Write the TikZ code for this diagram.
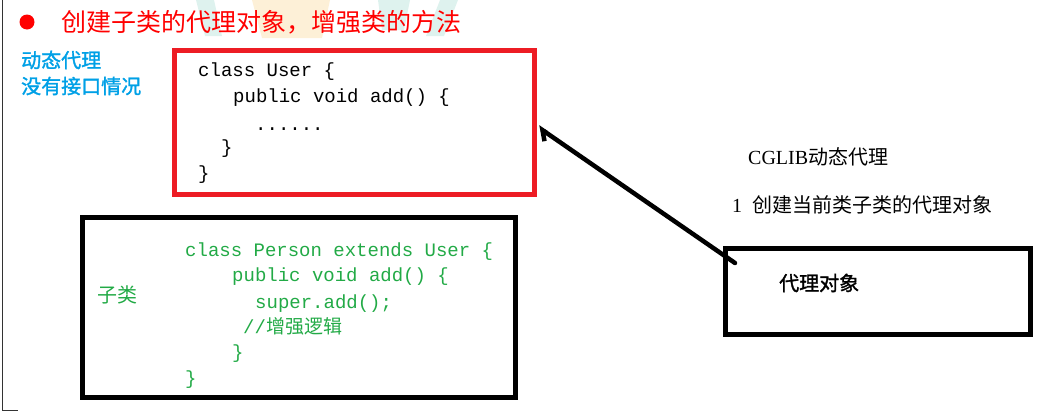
\documentclass[tikz,border=0pt]{standalone}
\usepackage{fontspec}
\setmainfont{Liberation Serif}
\setmonofont{Liberation Mono}
\newfontfamily\cjk{Noto Sans CJK SC}
\newfontfamily\cjkb[FakeBold=1.5]{Noto Sans CJK SC}
\usetikzlibrary{arrows.meta}
\definecolor{titlered}{RGB}{255,0,0}
\definecolor{boxred}{RGB}{237,28,36}
\definecolor{codegreen}{RGB}{34,170,70}
\definecolor{noteblue}{RGB}{0,160,230}
\definecolor{faintteal}{RGB}{222,242,238}
\definecolor{faintorange}{RGB}{253,240,215}
\begin{document}
\begin{tikzpicture}[x=1pt, y=-1pt,
    codeline/.style={anchor=west, inner sep=0pt, text height=13pt, text depth=4pt,
      font=\ttfamily\fontsize{19}{19}\selectfont},
    note/.style={anchor=west, inner sep=0pt, font=\cjk\fontsize{20}{20}\selectfont},
    framebox/.style={draw, line width=5pt, inner sep=0pt}]
    \useasboundingbox (0,0) rectangle (1042,418);

    % Marca de agua de fondo
    \fill[faintteal] (196,0) -- (214,0) -- (222,36) -- (205,36) -- cycle;
    \fill[faintorange] (252,0) -- (330,0) -- (322,38) -- (262,38) -- cycle;
    \fill[faintteal] (378,0) -- (410,0) -- (404,30) -- (382,30) -- cycle;
    \fill[faintteal] (440,0) -- (458,0) -- (444,36) -- (426,36) -- cycle;

    % Marca del margen
    \draw[line width=1pt, black!80] (2,0) -- (2,410) -- (18,410);

    % Titulo
    \node[circle, fill=titlered, minimum size=15pt, inner sep=0pt] (dot) at (27,22) {};
    \node[anchor=west, inner sep=0pt, text=titlered, font=\cjk\fontsize{25}{25}\selectfont] (title) at (61,22)
        {创建子类的代理对象，增强类的方法};

    % Nota azul
    \node[note, text=noteblue, font=\cjkb\fontsize{20}{20}\selectfont] (dyn) at (21,60) {动态代理};
    \node[note, text=noteblue, font=\cjkb\fontsize{20}{20}\selectfont] (noif) at (21,86) {没有接口情况};

    % Clase User
    \node[framebox, draw=boxred, minimum width=360pt, minimum height=144pt] (userbox) at (354.5,122.5) {};
    \node[codeline] (u1) at (198,72) {class User \{};
    \node[codeline] (u2) at (233,98) {public void add() \{};
    \node[codeline] (u3) at (255,126) {......};
    \node[codeline] (u4) at (221,149) {\}};
    \node[codeline] (u5) at (198,175) {\}};

    % Subclase Person
    \node[framebox, minimum width=433pt, minimum height=180pt] (subbox) at (299,307.5) {};
    \node[note, text=codegreen] (sub) at (97,295) {子类};
    \begin{scope}[every node/.style={codeline, text=codegreen}]
        \node (p1) at (185,252) {class Person extends User \{};
        \node (p2) at (232,277) {public void add() \{};
        \node (p3) at (255,304) {super.add();};
        \node (p4) at (243,329) {//{\cjk 增强逻辑}};
        \node (p5) at (232,354) {\}};
        \node (p6) at (185,380) {\}};
    \end{scope}

    % CGLIB
    \node[note, font=\fontsize{20}{20}\selectfont] (cglib) at (748,157) {CGLIB{\cjk 动态代理}};
    \node[note, font=\fontsize{20}{20}\selectfont] (step1) at (732,205) {1\hspace{10pt}{\cjk 创建当前类子类的代理对象}};

    % Objeto proxy
    \node[framebox, minimum width=305pt, minimum height=86pt] (proxy) at (878,291.5) {};
    \node[note, font=\cjkb\fontsize{20}{20}\selectfont] (proxytxt) at (779,283) {代理对象};

    % Flecha
    \coordinate (tail) at (735,263);
    \draw[line width=4.5pt, line cap=round, -{Straight Barb[left, length=8pt, width=16pt]}]
        (tail) -- ([xshift=1pt, yshift=-4.5pt]userbox.east);
\end{tikzpicture}
\end{document}
